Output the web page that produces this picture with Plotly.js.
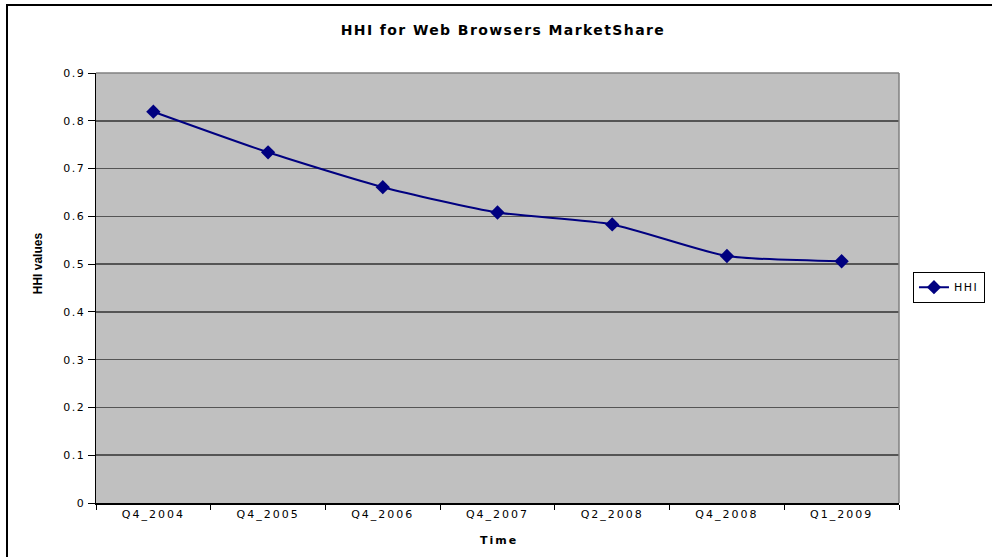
<!DOCTYPE html>
<html>
<head>
<meta charset="utf-8">
<script src="https://cdn.plot.ly/plotly-3.0.1.min.js"></script>
<style>
html,body{margin:0;padding:0;background:#fff;overflow:hidden;width:992px;height:557px;}
#wrap{position:relative;width:992px;height:557px;overflow:hidden;}
#chart{width:992px;height:557px;}
#frame{position:absolute;left:6px;top:4px;width:1200px;height:800px;border-left:2px solid #000;border-top:2px solid #000;pointer-events:none;}
.xtick text{letter-spacing:2px;}
.ytick text{letter-spacing:1.5px;}
.gtitle{letter-spacing:1.4px;}
.legendtext{letter-spacing:1.5px;}
</style>
</head>
<body>
<div id="wrap">
<div id="chart"></div>
<div id="frame"></div>
</div>
<script>
var categories = ["Q4_2004","Q4_2005","Q4_2006","Q4_2007","Q2_2008","Q4_2008","Q1_2009"];
var hhiValues = [0.819, 0.734, 0.661, 0.608, 0.583, 0.517, 0.506];
var yTickValues = [0, 0.1, 0.2, 0.3, 0.4, 0.5, 0.6, 0.7, 0.8, 0.9];
var yTickLabels = ["0", "0.1", "0.2", "0.3", "0.4", "0.5", "0.6", "0.7", "0.8", "0.9"];

var FONT = 'DejaVu Sans, Verdana, sans-serif';

var trace = {
  x: categories,
  y: hhiValues,
  type: 'scatter',
  mode: 'lines+markers',
  name: 'HHI',
  line: {color: '#000080', width: 2, shape: 'spline', smoothing: 0.6},
  marker: {symbol: 'diamond', size: 11, color: '#000080'}
};

var layout = {
  width: 992, height: 557,
  margin: {l: 96, r: 93, t: 73, b: 54, autoexpand: false},
  paper_bgcolor: '#ffffff',
  plot_bgcolor: '#c0c0c0',
  font: {family: FONT, size: 11, color: '#000'},
  title: {
    text: '<b>HHI for Web Browsers MarketShare</b>',
    font: {size: 14, family: FONT, color: '#000'},
    x: 0.507, xanchor: 'center', xref: 'container',
    y: 0.946, yanchor: 'middle', yref: 'container'
  },
  xaxis: {
    type: 'category',
    range: [-0.5, 6.5],
    tickson: 'boundaries',
    ticks: 'outside', ticklen: 5, tickcolor: '#000', tickwidth: 1,
    showline: true, linecolor: '#000', linewidth: 1.5,
    showgrid: false, zeroline: false,
    tickfont: {size: 11, family: FONT, color: '#000'},
    fixedrange: true
  },
  yaxis: {
    range: [0, 0.9],
    tickvals: yTickValues,
    ticktext: yTickLabels,
    ticks: 'outside', ticklen: 7, tickcolor: '#000', tickwidth: 1,
    showline: true, linecolor: '#000', linewidth: 1.5,
    showgrid: true, gridcolor: '#555555', gridwidth: 1.5,
    zeroline: false,
    tickfont: {size: 11, family: FONT, color: '#000'},
    fixedrange: true
  },
  annotations: [
    {text: '<b>HHI values</b>', textangle: -90, xref: 'paper', yref: 'paper',
     x: -0.072, y: 0.558, xanchor: 'center', yanchor: 'middle', showarrow: false,
     font: {size: 12, family: 'Liberation Sans Narrow, Arial Narrow, sans-serif', color: '#000'}},
    {text: '<b>Time</b>', xref: 'paper', yref: 'paper', x: 0.502, y: -0.088,
     xanchor: 'center', yanchor: 'middle', showarrow: false,
     font: {size: 11, family: FONT, color: '#000'}}
  ],
  showlegend: true,
  legend: {
    x: 1.0174, xanchor: 'left', y: 0.502, yanchor: 'middle',
    bgcolor: '#ffffff', bordercolor: '#000', borderwidth: 1,
    font: {size: 11, family: FONT, color: '#000'},
    itemwidth: 30
  },
  shapes: [
    {type: 'line', xref: 'paper', yref: 'paper', x0: 1, x1: 1, y0: 0, y1: 1, line: {color: '#808080', width: 1.5}},
    {type: 'line', xref: 'paper', yref: 'paper', x0: 0, x1: 1, y0: 1, y1: 1, line: {color: '#808080', width: 1.5}}
  ]
};

Plotly.newPlot('chart', [trace], layout, {displayModeBar: false, staticPlot: true}).then(function(){
  var ann = document.querySelectorAll('.annotation-text');
  if (ann.length > 1) { ann[1].style.letterSpacing = '2px'; }
});
</script>
</body>
</html>
